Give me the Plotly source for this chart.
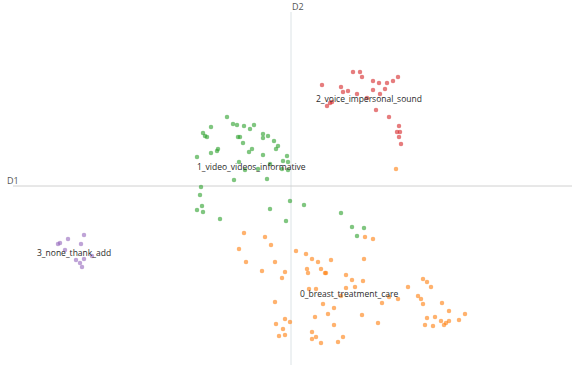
import plotly.graph_objects as go

# Topic document embeddings (D1, D2)
topic0_pts = [(-4.7,-4.7),(-2.6,-5.1),(-2.0,-5.9),(-5.2,-6.3),(-4.5,-7.6),(-1.6,-7.6),(-2.9,-8.5),(-0.6,-8.6),
              (-0.9,-9.2),(0.5,-6.5),(1.5,-6.8),(2.1,-7.3),(2.7,-7.6),(4.0,-7.4),(1.6,-8.3),(1.7,-8.7),
              (3.0,-8.3),(3.4,-8.7),(3.5,-8.7),(1.8,-10.3),(2.5,-10.3),(-1.6,-11.6),(3.2,-11.8),(4.3,-12.2),
              (3.7,-12.8),(2.4,-13.1),(-0.6,-13.3),(-0.1,-13.6),(-1.5,-13.8),(-0.8,-14.3),(-1.2,-15.0),(-0.6,-14.9),
              (2.1,-14.6),(2.5,-15.1),(2.1,-15.3),(3.0,-15.7),(4.7,-15.6),(5.2,-15.1),(4.3,-13.9),(7.1,-12.9),
              (8.7,-13.7),(7.4,-5.1),(8.2,-5.3),(7.3,-7.3),(5.5,-8.9),(6.1,-9.4),(7.2,-9.5),(6.4,-10.1),
              (5.5,-10.2),(5.0,-11.0),(11.7,-10.1),(12.7,-11.0),(10.7,-11.3),(9.8,-11.1),(9.1,-11.7),(13.2,-9.3),
              (13.6,-9.6),(14.0,-10.1),(13.0,-11.3),(13.2,-11.8),(15.1,-11.7),(15.8,-12.5),(17.4,-12.8),(13.6,-13.2),
              (14.4,-13.1),(15.0,-13.5),(15.8,-13.5),(16.8,-13.4),(15.5,-13.7),(15.3,-13.9),(13.4,-13.9),(14.2,-14.0),
              (10.5,1.7)]
topic1_pts = [(-6.4,6.9),(-5.8,6.2),(-5.4,6.1),(-4.7,6.0),(-3.7,6.1),(-8.0,5.9),(-4.1,5.7),(-8.8,5.3),
              (-8.6,5.0),(-8.4,4.9),(-5.3,4.9),(-5.1,4.9),(-2.8,5.2),(-2.3,5.0),(-2.8,4.8),(-4.8,4.3),
              (-1.7,4.5),(-1.3,4.0),(-1.5,3.7),(-3.9,3.7),(-4.2,3.4),(-7.3,3.7),(-7.4,3.5),(-8.0,3.3),
              (-2.8,3.1),(-0.4,3.0),(-0.8,2.5),(-9.4,2.9),(-5.2,2.4),(-2.1,2.2),(-3.3,1.7),(-4.6,1.6),
              (-0.9,1.7),(-0.3,2.4),(-0.3,1.6),(-5.7,0.6),(-2.4,0.7),(-9.0,-0.1),(-9.1,-0.9),(-8.9,-2.0),
              (-9.4,-2.4),(-8.8,-2.6),(-2.1,-2.3),(-0.1,-1.5),(1.3,-1.9),(-0.5,-3.5),(5.0,-2.7),(6.1,-4.1),
              (7.3,-4.2),(6.6,-5.0),(-7.1,-3.3)]
topic2_pts = [(6.2,11.4),(6.9,11.4),(7.1,10.9),(3.1,10.1),(5.0,9.9),(5.2,9.4),(5.7,9.5),(6.6,9.2),
              (8.2,10.5),(8.8,10.3),(9.6,10.3),(10.2,10.5),(10.7,10.9),(8.2,9.6),(8.9,9.2),(9.4,9.7),
              (4.1,8.4),(3.6,8.0),(3.9,8.3),(7.6,8.8),(8.5,7.6),(9.8,6.9),(10.8,6.0),(10.6,5.4),
              (10.9,5.4),(10.8,4.9),(11.0,4.2)]
topic3_pts = [(-23.3,-5.8),(-23.1,-5.7),(-22.3,-5.3),(-20.7,-4.9),(-21.0,-5.8),(-21.5,-7.4),(-21.1,-7.7),
              (-20.9,-8.1),(-20.7,-7.3),(-19.9,-7.0),(-22.6,-6.4)]

topic_names = ["0_breast_treatment_care", "1_video_videos_informative",
               "2_voice_impersonal_sound", "3_none_thank_add"]
label_x = [5.75, -3.95, 7.75, -21.75]
label_y = [-10.7, 2.0, 8.8, -6.6]
colors = ["#ff7f0e", "#2ca02c", "#d62728", "#9467bd"]

x_range = (-29.1, 28.9)
y_range = (-18.2, 18.6)
line_x = (-27.8, 28.1)
line_y = (-17.9, 17.4)

fig = go.Figure()
for pts, name, c in zip([topic0_pts, topic1_pts, topic2_pts, topic3_pts], topic_names, colors):
    fig.add_trace(go.Scatter(
        x=[p[0] for p in pts], y=[p[1] for p in pts], mode="markers", name=name,
        showlegend=False, marker=dict(size=4.5, color=c, opacity=0.6, line=dict(width=0))))

fig.add_shape(type="line", x0=0, x1=0, y0=line_y[0], y1=line_y[1],
              line=dict(color="#DCE3E6", width=1), layer="below")
fig.add_shape(type="line", x0=line_x[0], x1=line_x[1], y0=0, y1=0,
              line=dict(color="#D0D0D0", width=1), layer="below")
fig.add_annotation(x=line_x[0], y=0, text="D1", showarrow=False, yshift=6,
                   font=dict(size=9, color="#555555"))
fig.add_annotation(x=0, y=line_y[1], text="D2", showarrow=False, xshift=7, yshift=6,
                   font=dict(size=9, color="#555555"))
for n, lx, ly in zip(topic_names, label_x, label_y):
    fig.add_annotation(x=lx, y=ly, text=n, showarrow=False,
                       font=dict(size=8.5, color="#2a2a2a"))

fig.update_layout(
    width=580, height=368, margin=dict(l=0, r=0, t=0, b=0),
    plot_bgcolor="white", paper_bgcolor="white",
    font=dict(family="Open Sans"),
    xaxis=dict(visible=False, range=list(x_range)),
    yaxis=dict(visible=False, range=list(y_range)),
)
fig.write_html("out.html")
